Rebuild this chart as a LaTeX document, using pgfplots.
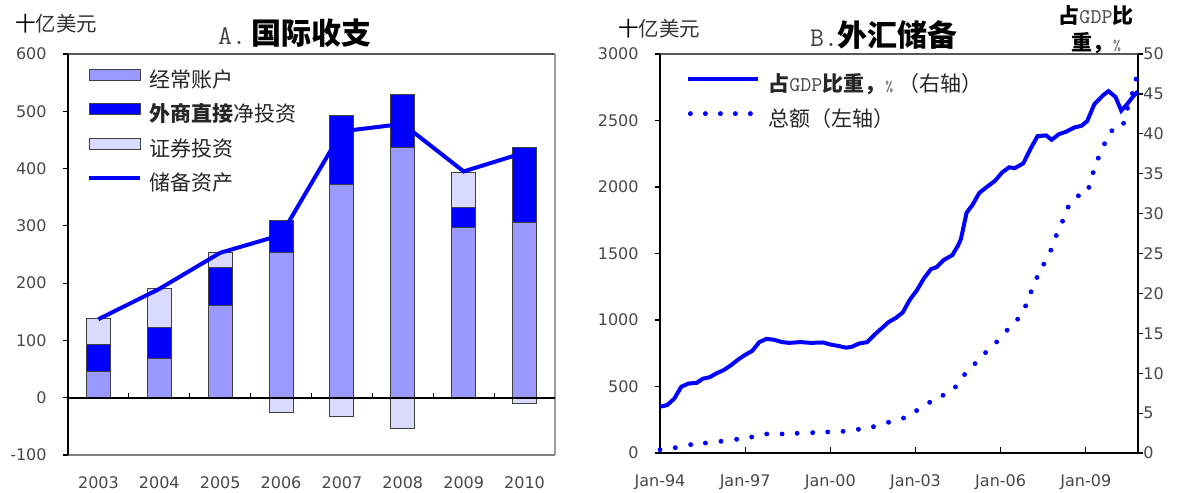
\documentclass[border=0pt]{standalone}
\usepackage{fontspec}
\setmainfont{DejaVu Sans}
\newfontfamily\cjk{Noto Sans CJK SC}
\usepackage{pgfplots}
\pgfplotsset{compat=1.18}
\usepackage{pgfplotstable}
\definecolor{cA}{HTML}{9999FF}
\definecolor{cB}{HTML}{0000FF}
\definecolor{cC}{HTML}{DADAFF}
\definecolor{tk}{HTML}{484848}

\pgfplotstableread{
x ca fdi pi res
0 46 47 45 137
1 69 53 68 190
2 161 67 25 253
3 253 57 -26 284
4 372 121 -33 465
5 436 94 -53 478
6 297 35 62 395
7 306 130 -10 428
}\bop

\pgfplotstableread{
t pct
1994.0 5.8
1994.25 6.0
1994.5 6.8
1994.75 8.3
1995.0 8.7
1995.3 8.8
1995.5 9.3
1995.75 9.5
1996.0 10.0
1996.25 10.4
1996.5 11.0
1996.75 11.7
1997.0 12.3
1997.25 12.8
1997.5 13.9
1997.75 14.3
1998.0 14.2
1998.3 13.9
1998.55 13.8
1998.95 13.9
1999.3 13.8
1999.75 13.85
2000.0 13.6
2000.3 13.4
2000.55 13.2
2000.75 13.3
2001.0 13.7
2001.3 13.9
2001.55 14.8
2001.8 15.6
2002.05 16.4
2002.3 16.9
2002.55 17.6
2002.8 19.2
2003.05 20.4
2003.3 21.9
2003.55 23.05
2003.75 23.3
2004.0 24.2
2004.3 24.8
2004.5 26.0
2004.6 26.8
2004.8 30.1
2005.0 31.05
2005.25 32.6
2005.5 33.3
2005.8 34.1
2006.05 35.15
2006.3 35.8
2006.5 35.7
2006.8 36.3
2007.05 38.1
2007.3 39.7
2007.6 39.8
2007.8 39.25
2008.05 39.95
2008.3 40.25
2008.6 40.8
2008.85 41.0
2009.05 41.6
2009.3 43.7
2009.6 44.8
2009.8 45.35
2010.05 44.6
2010.25 42.9
2010.45 43.7
2010.65 44.6
2010.83 45.3
}\gdp

\pgfplotstableread{
t amt
1994.0 25
1994.54 40
1995.08 63
1995.6 75
1996.15 88
1996.7 103
1997.23 120
1997.76 143
1998.3 143
1998.83 148
1999.38 153
1999.91 158
2000.45 163
2000.99 178
2001.52 198
2002.05 231
2002.58 263
2003.04 319
2003.5 381
2003.97 434
2004.41 497
2004.73 590
2005.1 672
2005.47 755
2005.86 835
2006.23 923
2006.6 1006
2006.88 1106
2007.07 1212
2007.28 1320
2007.52 1420
2007.77 1525
2007.96 1635
2008.18 1743
2008.38 1849
2008.74 1934
2009.11 1997
2009.26 2108
2009.44 2217
2009.66 2325
2009.92 2423
2010.33 2479
2010.47 2592
2010.64 2703
2010.77 2811
}\amt

\pgfplotsset{
  barleg/.style={legend image code/.code={\draw[##1,line width=0.5pt] (0pt,1pt) rectangle (25.5pt,6.5pt);}},
  lineleg/.style={legend image code/.code={\path[draw=none,fill=none] (0pt,0.75pt) rectangle (25.5pt,6.75pt);\draw[##1] (0pt,3.7pt) -- (25.5pt,3.7pt);}},
  linelegB/.style={legend image code/.code={\draw[##1] (0pt,3.7pt) -- (35pt,3.7pt);}},
  dotleg/.style={legend image code/.code={\foreach \i in {0,7.5,15,22.5,30}{\fill[cB] (\i pt+1pt,3.7pt) circle (1pt);}}},
  mystyle/.style={
    scale only axis, clip=false,
    axis line style={draw=none},
    tick label style={font=\fontsize{8}{9}\selectfont, text=tk},
    tick align=outside, major tick length=2.5pt,
    ytick style={black, line width=0.6pt},
    xtick style={draw=none},
    yticklabel style={anchor=east, inner sep=0pt, xshift=-8pt},
    xticklabel style={anchor=north, inner sep=0pt, yshift=-8pt},
  },
}

\begin{document}
\begin{tikzpicture}
\path[use as bounding box] (0pt,0pt) rectangle (590.5pt,246pt);

% ---------------- Panel A ----------------
\begin{axis}[mystyle,
  at={(34pt,18.5pt)}, anchor=south west, width=243.5pt, height=200.5pt,
  xmin=-0.5, xmax=7.5, ymin=-100, ymax=600,
  xtick={0,1,2,3,4,5,6,7},
  xticklabels={2003,2004,2005,2006,2007,2008,2009,2010},
  ytick={-100,0,100,200,300,400,500,600},
  yticklabels={-100,0,100,200,300,400,500,600},
  ytick pos=left,
  legend cell align=left,
  legend style={at={(axis description cs:0,1)}, anchor=north west,
    xshift=9.5pt, yshift=-7.2pt, draw=none, fill=none, inner sep=0pt,
    row sep=6pt, column sep=3.5pt,
    nodes={inner sep=0pt, text height=7pt, text depth=2pt,
      font=\fontsize{10.5}{12}\selectfont\cjk, text=black!85}},
]
\addplot[ybar, bar width=12pt, bar shift=0pt, fill=cC, draw=black!75, line width=0.5pt, forget plot]
  table[x=x, y expr={\thisrow{ca}+\thisrow{fdi}+max(\thisrow{pi},0)}]{\bop};
\addplot[ybar, bar width=12pt, bar shift=0pt, fill=cB, draw=black!75, line width=0.5pt, forget plot]
  table[x=x, y expr={\thisrow{ca}+\thisrow{fdi}}]{\bop};
\addplot[ybar, bar width=12pt, bar shift=0pt, fill=cA, draw=black!75, line width=0.5pt, forget plot]
  table[x=x, y=ca]{\bop};
\addplot[ybar, bar width=12pt, bar shift=0pt, fill=cC, draw=black!75, line width=0.5pt, forget plot]
  table[x=x, y expr={min(\thisrow{pi},0)}]{\bop};
\addplot[cB, line width=2pt, forget plot] table[x=x, y=res]{\bop};

\addlegendimage{barleg, fill=cA, draw=black!75}
\addlegendentry{经常账户}
\addlegendimage{barleg, fill=cB, draw=black!75}
\addlegendentry{{\bfseries 外商直接}净投资}
\addlegendimage{barleg, fill=cC, draw=black!75}
\addlegendentry{证券投资}
\addlegendimage{lineleg, cB, line width=2pt}
\addlegendentry{储备资产}

\draw[black!65, line width=0.6pt] (rel axis cs:0,1) -- (rel axis cs:1,1);
\draw[black!40, line width=0.8pt] (rel axis cs:1,1) -- (rel axis cs:1,0);
\draw[black!50, line width=0.6pt] (rel axis cs:0,0) -- (rel axis cs:1,0);
\draw[black, line width=1pt] (axis cs:-0.5,0) -- (axis cs:7.5,0);
\draw[black, line width=1pt] (rel axis cs:0,0) -- (rel axis cs:0,1);
\pgfplotsinvokeforeach{0.5,1.5,2.5,3.5,4.5,5.5,6.5}{
  \draw[black, line width=0.6pt] (axis cs:#1,0) -- ++(0pt,2.5pt);
}
\end{axis}

% ---------------- Panel B ----------------
\begin{axis}[mystyle,
  at={(330pt,19.5pt)}, anchor=south west, width=239pt, height=199.5pt,
  xmin=1994, xmax=2010.84, ymin=0, ymax=3000,
  xtick={1994,1997,2000,2003,2006,2009},
  xticklabels={Jan-94,Jan-97,Jan-00,Jan-03,Jan-06,Jan-09},
  ytick={0,500,1000,1500,2000,2500,3000},
  yticklabels={0,500,1000,1500,2000,2500,3000},
  ytick pos=left,
]
\addplot[only marks, mark=*, mark size=1pt, cB, draw=cB, fill=cB] table[x=t, y=amt]{\amt};
\draw[black!65, line width=0.6pt] (rel axis cs:0,1) -- (rel axis cs:1,1);
\draw[black, line width=1pt] (rel axis cs:0,0) -- (rel axis cs:1,0);
\draw[black, line width=1pt] (rel axis cs:0,0) -- (rel axis cs:0,1);
\draw[black, line width=1pt] (rel axis cs:1,0) -- (rel axis cs:1,1);
\pgfplotsinvokeforeach{1997,2000,2003,2006,2009}{
  \draw[black, line width=0.6pt] (axis cs:#1,0) -- ++(0pt,3pt);
}
\end{axis}

\begin{axis}[mystyle,
  at={(330pt,19.5pt)}, anchor=south west, width=239pt, height=199.5pt,
  xmin=1994, xmax=2010.84, ymin=0, ymax=50,
  xtick=\empty,
  ytick={0,5,10,15,20,25,30,35,40,45,50},
  yticklabels={0,5,10,15,20,25,30,35,40,45,50},
  ytick pos=right, yticklabel pos=right,
  yticklabel style={anchor=west, inner sep=0pt, xshift=8pt},
  legend cell align=left,
  legend style={at={(axis description cs:0,1)}, anchor=north west,
    xshift=13pt, yshift=-11.2pt, draw=none, fill=none, inner sep=0pt,
    row sep=8pt, column sep=4pt,
    nodes={inner sep=0pt, text height=7pt, text depth=2pt,
      font=\fontsize{10.5}{12}\selectfont\cjk, text=black!85}},
]
\addplot[cB, line width=2pt, linelegB] table[x=t, y=pct]{\gdp};
\addlegendentry{{\bfseries 占}{\ttfamily\color{black!70}GDP}{\bfseries 比重，}{\ttfamily\fontsize{7.5}{8}\selectfont\color{black!60}\%} （右轴）}
\addlegendimage{dotleg}
\addlegendentry{总额（左轴）}
\end{axis}

% ---------------- Titles and unit labels ----------------
\node[anchor=west, inner sep=0pt, font=\fontsize{10.25}{12}\selectfont\cjk, text=black!80] at (7.5pt,234pt) {{\color{black}十}亿美元};
\node[inner sep=0pt] at (147.5pt,229.5pt) {{\ttfamily\fontsize{13.5}{14}\selectfont\color{black!75}A.}\hspace{3pt}{\cjk\bfseries\fontsize{15}{16}\selectfont 国际收支}};
\node[anchor=west, inner sep=0pt, font=\fontsize{10.25}{12}\selectfont\cjk, text=black!80] at (309pt,231.5pt) {{\color{black}十}亿美元};
\node[inner sep=0pt] at (442pt,228.5pt) {{\ttfamily\fontsize{13.5}{14}\selectfont\color{black!75}B.}{\cjk\bfseries\fontsize{15}{16}\selectfont 外汇储备}};
\node[inner sep=0pt, align=center, font=\fontsize{10.5}{13.5}\selectfont\cjk] at (548pt,231pt)
  {{\bfseries 占}{\ttfamily\color{black!70}GDP}{\bfseries 比}\\{\bfseries 重，}{\ttfamily\fontsize{7.5}{8}\selectfont\color{black!60}\%}};
\end{tikzpicture}
\end{document}
